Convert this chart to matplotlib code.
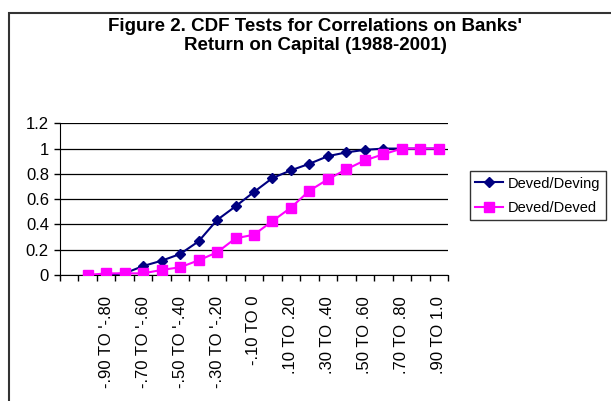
import matplotlib
matplotlib.use("Agg")
import matplotlib.pyplot as plt
from matplotlib.patches import Rectangle

plt.rcParams['font.family'] = ['Liberation Sans', 'DejaVu Sans']

categories = ["", "-1.0 TO '-.90", "-.90 TO '-.80", "-.80 TO '-.70", "-.70 TO '-.60",
              "-.60 TO '-.50", "-.50 TO '-.40", "-.40 TO '-.30", "-.30 TO '-.20",
              "-.20 TO '-.10", "-.10 TO 0", "0 TO .10", ".10 TO .20", ".20 TO .30",
              ".30 TO .40", ".40 TO .50", ".50 TO .60", ".60 TO .70", ".70 TO .80",
              ".80 TO .90", ".90 TO 1.0"]
deving = [None, 0.0, 0.0, 0.013, 0.071, 0.113, 0.166, 0.266, 0.435, 0.543, 0.657,
          0.767, 0.828, 0.88, 0.94, 0.97, 0.99, 1.0, 1.0, 1.0, 1.0]
deved = [None, 0.0, 0.013, 0.013, 0.013, 0.040, 0.061, 0.116, 0.179, 0.29, 0.319,
         0.427, 0.533, 0.667, 0.757, 0.836, 0.907, 0.955, 1.0, 1.0, 1.0]
series_names = ["Deved/Deving", "Deved/Deved"]
title = "Figure 2. CDF Tests for Correlations on Banks'\nReturn on Capital (1988-2001)"

W, H = 611, 401
fig = plt.figure(figsize=(W / 100, H / 100), dpi=100)
fig.patch.set_facecolor('white')

# outer chart frame
fig.patches.append(Rectangle((9 / W, -0.1), 1.2, 1 - 13 / H + 0.1, transform=fig.transFigure,
                             fill=False, edgecolor='#333333', linewidth=1.5))

ax = fig.add_axes([60 / W, 1 - 275 / H, (448 - 60) / W, (275 - 123.3) / H])
x = list(range(len(categories)))

def pts(vals):
    xs = [i for i, v in zip(x, vals) if v is not None]
    ys = [v for v in vals if v is not None]
    return xs, ys

xs, ys = pts(deving)
ax.plot(xs, ys, color='#000080', marker='D', markersize=5.3, linewidth=1.5,
        label=series_names[0], zorder=3)
xs, ys = pts(deved)
ax.plot(xs, ys, color='#FF00FF', marker='s', markersize=7.2, linewidth=1.5,
        label=series_names[1], zorder=4)

ax.set_xlim(-0.5, len(categories) - 0.5)
ax.set_ylim(0, 1.2)
ax.set_yticks([0, 0.2, 0.4, 0.6, 0.8, 1.0, 1.2])
ax.set_yticklabels(['0', '0.2', '0.4', '0.6', '0.8', '1', '1.2'], fontsize=12)
ax.yaxis.grid(True, color='black', linewidth=0.9)
ax.set_axisbelow(True)

major = x[::2]
ax.set_xticks(major)
ax.set_xticklabels([categories[i] for i in major], rotation=90, fontsize=12,
                   va='top', ha='center')
ax.set_xticks([i - 0.5 for i in range(len(categories) + 1)], minor=True)
ax.tick_params(axis='x', which='major', length=0, pad=15)
ax.tick_params(axis='x', which='minor', length=4, width=1, direction='out')
ax.tick_params(axis='y', length=4, width=1, direction='out', pad=4)

for s in ['top', 'right']:
    ax.spines[s].set_visible(False)
ax.spines['bottom'].set_color('black')
ax.spines['left'].set_color('black')

fig.text(315 / W, 1 - 36 / H, title, ha='center', va='center', fontsize=13.5,
         fontweight='bold', linespacing=1.15)

leg = fig.legend(loc='upper left', bbox_to_anchor=(470 / W, 1 - 171.5 / H),
                 bbox_transform=fig.transFigure, fontsize=10.5, frameon=True,
                 fancybox=False, edgecolor='black', borderpad=0.35,
                 handlelength=1.9, handletextpad=0.35, labelspacing=0.7,
                 borderaxespad=0)
leg.get_frame().set_linewidth(1.0)

fig.savefig('out.png', dpi=100, facecolor='white')
